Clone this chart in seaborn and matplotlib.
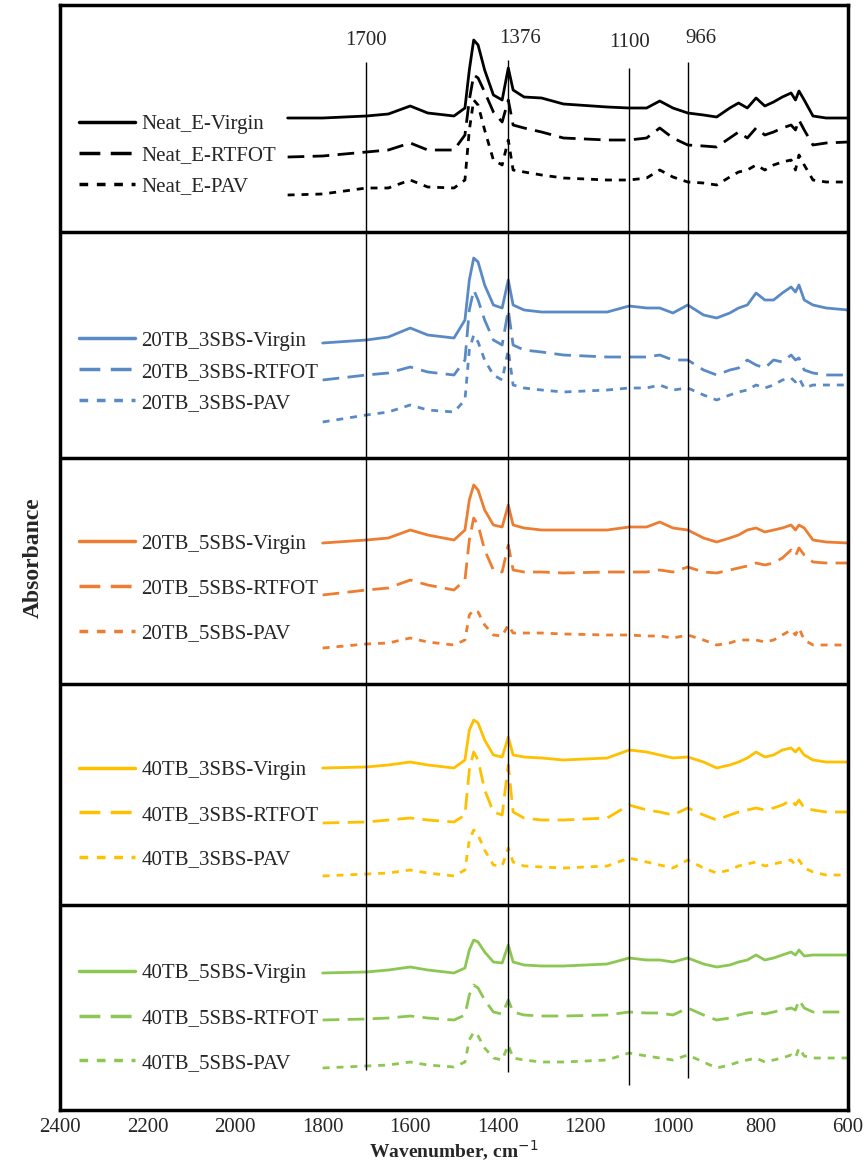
import numpy as np
import pandas as pd
import matplotlib
matplotlib.use("Agg")
import matplotlib.pyplot as plt
import seaborn as sns

sns.set_style("white")
plt.rcParams['font.family'] = ['Liberation Serif', 'DejaVu Serif']

nan = np.nan
wn = [1880, 1800, 1700, 1650, 1600, 1560, 1500, 1475, 1465, 1455, 1445, 1430, 1410, 1390,
      1376, 1365, 1340, 1300, 1250, 1150, 1100, 1060, 1030, 1000, 966, 930, 900, 870, 850,
      830, 810, 790, 770, 750, 730, 720, 712, 700, 680, 650, 600]

# absorbance in stacked plot units (pixels from the top of the original chart)
neat_virgin = [118,118,116,114,106,113,116,108,70,40,45,70,95,100,68,90,97,98,104,107,108,108,101,108,113,115,117,108,103,108,98,106,102,97,93,100,91,100,116,118,118]
neat_rtfot = [157,156,152,150,143,150,150,135,100,75,78,92,112,122,100,125,128,132,138,140,140,138,128,138,145,146,147,138,132,138,128,135,132,128,125,130,120,130,145,143,142]
neat_pav = [195,194,188,188,180,187,188,180,130,100,105,130,160,165,140,170,172,175,178,180,180,178,170,177,182,183,185,177,172,170,165,170,165,162,160,170,155,165,180,182,182]
tb20_3_virgin = [nan,343,340,337,328,335,338,320,280,258,262,285,305,308,280,305,310,312,312,312,306,308,308,313,305,315,318,313,308,305,293,300,300,293,287,292,285,300,305,308,310]
tb20_3_rtfot = [nan,380,375,373,367,372,375,360,310,290,300,320,340,345,310,345,350,352,355,357,357,357,355,360,360,370,375,370,368,360,365,368,360,362,355,360,358,370,373,375,375]
tb20_3_pav = [nan,422,415,412,405,410,412,400,350,335,342,360,375,380,350,385,388,390,392,390,388,388,385,390,388,395,400,395,392,390,385,388,385,380,378,382,378,388,385,385,385]
tb20_5_virgin = [nan,543,540,538,530,535,540,530,500,485,490,510,525,527,505,525,528,530,530,530,527,527,522,528,530,538,542,538,535,530,528,532,530,528,525,530,525,528,540,542,543]
tb20_5_rtfot = [nan,595,590,588,580,585,590,580,540,518,525,550,570,572,545,570,572,572,573,572,572,572,570,572,567,572,573,570,568,566,563,565,563,558,550,556,548,555,562,563,563]
tb20_5_pav = [nan,648,644,643,638,642,645,640,615,610,612,625,635,636,625,633,633,633,634,635,635,636,636,638,635,640,645,643,640,640,640,642,640,635,630,635,628,640,645,645,645]
tb40_3_virgin = [nan,768,767,765,762,765,768,760,730,720,723,740,755,757,737,755,757,758,760,758,750,752,755,758,757,762,768,765,762,758,752,757,755,750,748,752,748,755,760,762,762]
tb40_3_rtfot = [nan,823,822,820,818,820,822,815,770,752,760,790,812,815,765,812,818,820,820,818,805,810,812,815,808,815,820,815,812,810,808,810,808,805,800,805,800,808,810,812,812]
tb40_3_pav = [nan,876,874,873,870,873,876,870,840,830,835,850,865,866,848,862,866,867,868,866,858,862,865,868,860,868,873,870,866,864,862,866,864,862,860,865,860,868,872,875,875]
tb40_5_virgin = [nan,973,972,970,967,970,973,968,950,940,942,952,962,963,945,962,965,966,966,964,958,960,960,962,958,964,967,965,962,960,955,960,958,955,952,955,950,956,955,955,955]
tb40_5_rtfot = [nan,1020,1019,1018,1016,1018,1020,1015,995,985,988,1000,1012,1014,1000,1012,1015,1016,1016,1015,1012,1013,1013,1015,1008,1015,1020,1018,1015,1013,1012,1014,1012,1010,1008,1010,1000,1008,1012,1012,1012]
tb40_5_pav = [nan,1068,1066,1065,1062,1065,1067,1062,1040,1032,1036,1048,1058,1060,1045,1058,1060,1062,1062,1060,1053,1056,1058,1060,1055,1062,1068,1065,1062,1060,1058,1062,1060,1058,1055,1058,1048,1056,1058,1058,1058]

groups = [
    ("Neat_E", "black", [neat_virgin, neat_rtfot, neat_pav]),
    ("20TB_3SBS", "#5A8AC6", [tb20_3_virgin, tb20_3_rtfot, tb20_3_pav]),
    ("20TB_5SBS", "#ED7D31", [tb20_5_virgin, tb20_5_rtfot, tb20_5_pav]),
    ("40TB_3SBS", "#FFC000", [tb40_3_virgin, tb40_3_rtfot, tb40_3_pav]),
    ("40TB_5SBS", "#8CC751", [tb40_5_virgin, tb40_5_rtfot, tb40_5_pav]),
]
states = ["Virgin", "RTFOT", "PAV"]
styles = ["-", (0, (6, 3)), (0, (2.5, 2.5))]

marker_wn = [1700, 1376, 1100, 966]
marker_top = [62, 60, 68, 62]
marker_bot = [1070, 1072, 1085, 1078]
panel_edges = [232, 458, 684, 905]
TOP = 1110

fig = plt.figure(figsize=(8.65, 11.71), dpi=100)
ax = fig.add_axes([60/865, 61/1171, 788/865, 1105/1171])

legend_y = [0.864, 0.668, 0.472, 0.267, 0.083]
legend_sp = [0.55, 0.55, 1.2, 1.2, 1.2]
legends = []
for gi, (name, color, series) in enumerate(groups):
    handles = []
    for st, ls, vals in zip(states, styles, series):
        df = pd.DataFrame({"wn": wn, "a": [TOP - v for v in vals]}).dropna()
        sns.lineplot(data=df, x="wn", y="a", ax=ax, color=color, linestyle=ls,
                     lw=2, sort=False, estimator=None)
        h, = ax.plot([], [], color=color, linestyle=ls, lw=2.5, label=f"{name}-{st}")
        handles.append(h)
    leg = ax.legend(handles=handles, loc="center left", bbox_to_anchor=(0.0, legend_y[gi]),
                    frameon=False, fontsize=15, handlelength=2.7, handletextpad=0.3,
                    labelspacing=legend_sp[gi], borderaxespad=0.5)
    legends.append(leg)
for leg in legends[:-1]:
    ax.add_artist(leg)

for w, t, b in zip(marker_wn, marker_top, marker_bot):
    ax.vlines(w, TOP - b, TOP - t, color="black", lw=1)
ax.text(1700, TOP - 50, "1700", ha="center", va="bottom", fontsize=15)
ax.text(1350, TOP - 48, "1376", ha="center", va="bottom", fontsize=15)
ax.text(1100, TOP - 52, "1100", ha="center", va="bottom", fontsize=15)
ax.text(935, TOP - 48, "966", ha="center", va="bottom", fontsize=15)

for e in panel_edges:
    ax.axhline(TOP - e, color="black", lw=2.5)

ax.set_xlim(2400, 600)
ax.set_ylim(0, TOP - 5)
ax.set_xticks(range(600, 2401, 200))
ax.set_yticks([])
ax.tick_params(axis="x", labelsize=15, length=0, pad=6)
for s in ax.spines.values():
    s.set_linewidth(2.5)
    s.set_color("black")
ax.set_xlabel("Wavenumber, cm$^{-1}$", fontsize=14, fontweight="bold", labelpad=1)
ax.set_ylabel("Absorbance", fontsize=17, fontweight="bold", labelpad=12)
fig.savefig("out.png", dpi=100)
